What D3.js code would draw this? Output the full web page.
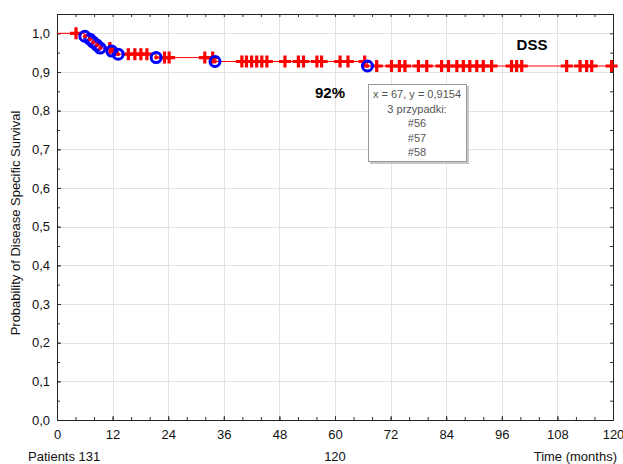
<!DOCTYPE html>
<html>
<head>
<meta charset="utf-8">
<script src="https://cdnjs.cloudflare.com/ajax/libs/d3/7.8.5/d3.min.js"></script>
<style>
  html, body { margin: 0; padding: 0; background: #fff; }
  svg { display: block; font-family: "Liberation Sans", Arial, sans-serif; }
</style>
</head>
<body>
<svg id="chart" width="623" height="464"></svg>
<script>
// Kaplan–Meier disease specific survival, 131 patients

// death (complete) events: time in months and survival after the event
const eventTimes    = [6.0, 7.1, 7.8, 8.6, 9.3, 11.8, 13.2, 21.4, 34.1, 67];
const eventSurvival = [0.9924, 0.9847, 0.9771, 0.9695, 0.9618, 0.9540, 0.9461, 0.9372, 0.9271, 0.9154];

// censored observations (months)
const censorTimes = [
  4.1, 11.4, 15.4, 16.8, 18.1, 19.4, 23.2, 24.2, 31.9, 33.6,
  39.9, 40.9, 42.0, 43.1, 44.2, 45.3, 49.2, 52.1, 53.2, 56.1, 57.1,
  61.1, 62.8, 66.4, 69.0, 72.2, 73.9, 75.1, 78.0, 79.8, 83.0, 84.5,
  86.3, 87.7, 89.1, 90.6, 92.0, 93.8, 98.1, 99.2, 100.3, 110.0,
  112.9, 114.3, 115.4, 119.7
];

const xTicks = [0, 12, 24, 36, 48, 60, 72, 84, 96, 108, 120];
const yTicks = [0, 0.1, 0.2, 0.3, 0.4, 0.5, 0.6, 0.7, 0.8, 0.9, 1.0];
const xMinorTicks = d3.range(0, 121, 4);
const yMinorTicks = d3.range(0, 21).map(i => i * 0.05);

const patientsAtStart = 131;
const patientsMid = 120;
const tooltipLines = ["x = 67, y = 0,9154", "3 przypadki:", "#56", "#57", "#58"];

const svg = d3.select("#chart");
const L = 57, R = 613, T = 14, B = 420;

const x = d3.scaleLinear().domain([0, 120]).range([L, R]);
const y = d3.scaleLinear().domain([0, 1.0]).range([B, 33.3]);

const fmt = d => d3.format(".1f")(d).replace(".", ",");

// grid
const grid = svg.append("g").attr("stroke", "#e2e2e2").attr("stroke-width", 1);
grid.selectAll(".gx").data(xTicks.slice(1, -1)).join("line")
  .attr("x1", d => Math.round(x(d)) + 0.5).attr("x2", d => Math.round(x(d)) + 0.5)
  .attr("y1", T).attr("y2", B);
grid.selectAll(".gy").data(yTicks.slice(1)).join("line")
  .attr("y1", d => Math.round(y(d)) + 0.5).attr("y2", d => Math.round(y(d)) + 0.5)
  .attr("x1", L).attr("x2", R);

// axes (ticks point inward)
const axisFont = 13;
const bottom = svg.append("g").attr("transform", `translate(0,${B})`)
  .call(d3.axisBottom(x).tickValues(xMinorTicks).tickSize(-3).tickFormat(""));
bottom.append("g").call(d3.axisBottom(x).tickValues(xTicks).tickSize(-4).tickPadding(10).tickFormat(d3.format("d")));
const left = svg.append("g").attr("transform", `translate(${L},0)`)
  .call(d3.axisLeft(y).tickValues(yMinorTicks).tickSize(-3).tickFormat(""));
left.append("g").call(d3.axisLeft(y).tickValues(yTicks).tickSize(-4).tickPadding(7).tickFormat(fmt));
svg.append("g").attr("transform", `translate(0,${T})`)
  .call(d3.axisTop(x).tickValues(xMinorTicks).tickSize(-3).tickFormat(""));
svg.append("g").attr("transform", `translate(${R},0)`)
  .call(d3.axisRight(y).tickValues(yMinorTicks).tickSize(-3).tickFormat(""));

svg.selectAll(".domain").remove();
svg.selectAll(".tick line").attr("stroke", "#333");
svg.selectAll(".tick text").attr("font-size", axisFont).attr("fill", "#111")
  .attr("font-family", "Liberation Sans, Arial, sans-serif");

// frame
svg.append("rect").attr("x", L + 0.5).attr("y", T + 0.5)
  .attr("width", R - L).attr("height", B - T)
  .attr("fill", "none").attr("stroke", "#222").attr("stroke-width", 1);

// survival step curve
const survAt = t => {
  let s = 1;
  eventTimes.forEach((et, i) => { if (et <= t) s = eventSurvival[i]; });
  return s;
};
const pts = [[0, 1]];
let prev = 1;
eventTimes.forEach((t, i) => {
  pts.push([t, prev]);
  pts.push([t, eventSurvival[i]]);
  prev = eventSurvival[i];
});
pts.push([120, prev]);
svg.append("path")
  .attr("d", d3.line().x(d => x(d[0])).y(d => y(d[1]))(pts))
  .attr("fill", "none").attr("stroke", "#ff0000").attr("stroke-width", 1);

// censored marks
const cs = 6;
svg.append("g").selectAll("path").data(censorTimes).join("path")
  .attr("d", t => {
    const cx = x(t), cy = y(survAt(t));
    return `M${cx - cs},${cy}H${cx + cs}M${cx},${cy - cs}V${cy + cs}`;
  })
  .attr("stroke", "#ff0000").attr("stroke-width", 3.2).attr("fill", "none");

// complete events
const ev = svg.append("g");
ev.selectAll("circle.ring").data(eventTimes).join("circle").attr("class", "ring")
  .attr("cx", t => x(t)).attr("cy", (t, i) => y(eventSurvival[i]))
  .attr("r", 5).attr("fill", "none").attr("stroke", "#0000ff").attr("stroke-width", 3);
ev.selectAll("circle.dot").data(eventTimes).join("circle").attr("class", "dot")
  .attr("cx", t => x(t)).attr("cy", (t, i) => y(eventSurvival[i]))
  .attr("r", 2).attr("fill", "#ff0000");

// annotations
svg.append("text").attr("x", 532).attr("y", 50).attr("text-anchor", "middle")
  .attr("font-size", 15).attr("font-weight", "bold").text("DSS");
svg.append("text").attr("x", 330).attr("y", 98).attr("text-anchor", "middle")
  .attr("font-size", 15).attr("font-weight", "bold").text(Math.round(eventSurvival[eventSurvival.length - 1] * 100) + "%");

// point info box
const tip = svg.append("g").attr("transform", "translate(368,84)");
tip.append("rect").attr("x", 2).attr("y", 2).attr("width", 99).attr("height", 78).attr("fill", "#c8c8c8");
tip.append("rect").attr("x", 0.5).attr("y", 0.5).attr("width", 98).attr("height", 77)
  .attr("fill", "#fff").attr("stroke", "#9a9a9a");
tip.selectAll("text").data(tooltipLines).join("text")
  .attr("x", 49).attr("y", (d, i) => 14 + i * 14.5)
  .attr("text-anchor", "middle").attr("font-size", 11).attr("fill", "#555")
  .attr("font-family", "Liberation Sans, Arial, sans-serif")
  .text(d => d);

// axis titles and patient counts
svg.append("text").attr("transform", `translate(20,${(T + B) / 2 + 6}) rotate(-90)`)
  .attr("text-anchor", "middle").attr("font-size", 13).attr("fill", "#111")
  .text("Probability of Disease Specific Survival");
svg.append("text").attr("x", 28).attr("y", 461).attr("font-size", 13).attr("fill", "#111")
  .text("Patients " + patientsAtStart);
svg.append("text").attr("x", x(60)).attr("y", 461).attr("text-anchor", "middle")
  .attr("font-size", 13).attr("fill", "#111").text(patientsMid);
svg.append("text").attr("x", 617).attr("y", 461).attr("text-anchor", "end")
  .attr("font-size", 13).attr("fill", "#111").text("Time (months)");
</script>
</body>
</html>
